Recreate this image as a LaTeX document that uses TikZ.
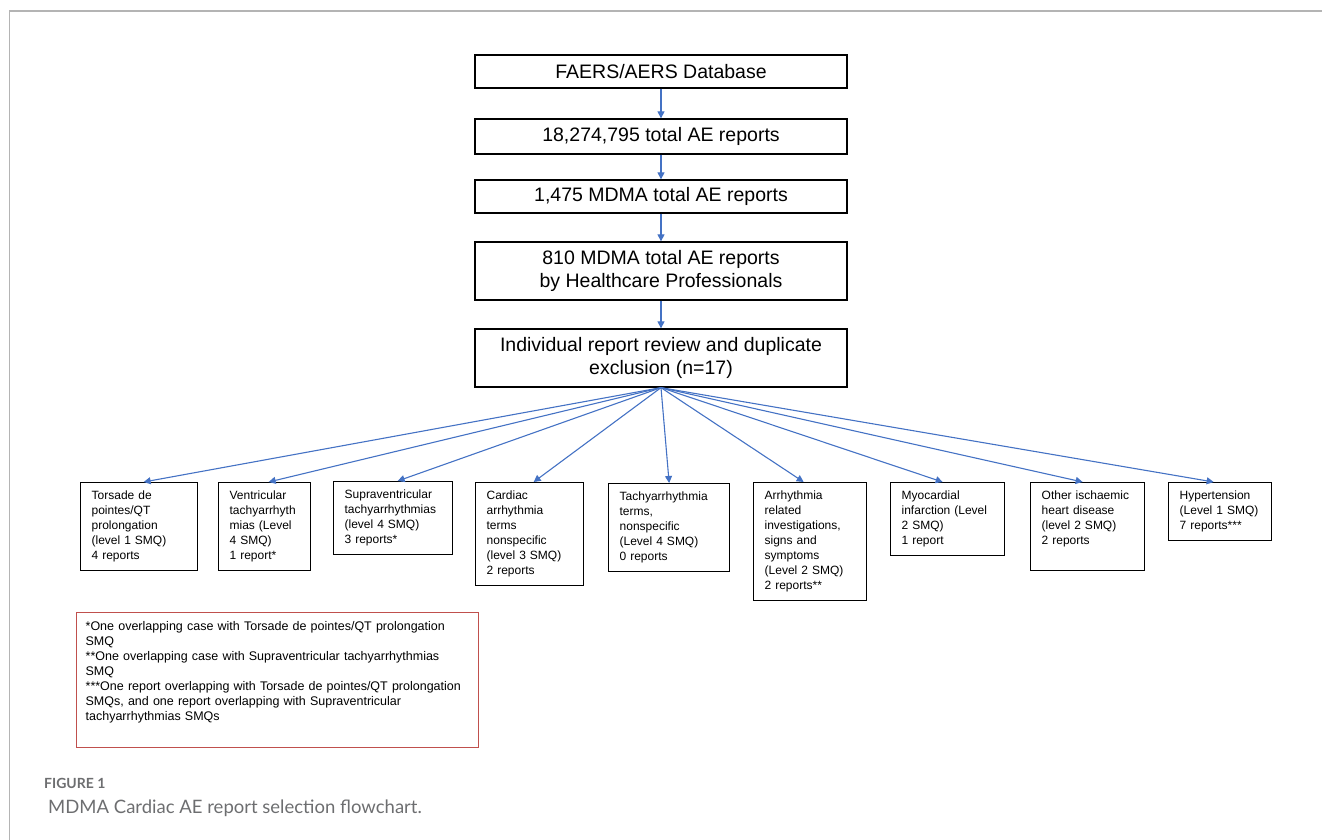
\documentclass[tikz,border=0pt]{standalone}
\usepackage{fontspec}
\setmainfont{Liberation Sans}
\newfontfamily\capfont{Lato}
\usetikzlibrary{arrows.meta}
\definecolor{arrblue}{HTML}{4472C4}
\definecolor{notered}{HTML}{C0504D}
\definecolor{capgray}{HTML}{6D6E70}
\definecolor{framegray}{HTML}{B4B4B4}
\begin{document}
\begin{tikzpicture}[x=1pt,y=-1pt,
  topbox/.style={draw=black, line width=1.3pt, minimum width=372pt, align=center,
    font=\fontsize{19.5}{23.5}\selectfont, inner sep=0pt},
  smallbox/.style={draw=black, line width=1.3pt, anchor=north west, align=left,
    inner xsep=11pt, inner ysep=6.5pt, font=\fontsize{12}{15}\selectfont,
    execute at begin node=\strut, execute at end node=\strut},
  notebox/.style={draw=notered, line width=1.3pt, anchor=north west, align=left,
    inner xsep=9pt, inner ysep=7.5pt, font=\fontsize{12.5}{15}\selectfont,
    execute at begin node=\strut, execute at end node=\strut},
  flow/.style={draw=arrblue, line width=1.1pt, -{Triangle[length=7pt,width=7pt]}},
  captxt/.style={anchor=base west, inner sep=0pt, text=capgray},
]
\useasboundingbox (0,0) rectangle (1322,840);
\draw[framegray, line width=1.5pt] (9.5,840) -- (9.5,11) -- (1322,11);

% main column
\node[topbox, minimum height=33pt] (t1) at (661,71.5) {FAERS/AERS Database};
\node[topbox, minimum height=35pt] (t2) at (661,136.5) {18,274,795 total AE reports};
\node[topbox, minimum height=33pt] (t3) at (661,196.5) {1,475 MDMA total AE reports};
\node[topbox, minimum height=58pt] (t4) at (661,271) {810 MDMA total AE reports\\by Healthcare Professionals};
\node[topbox, minimum height=58pt] (t5) at (661,358) {Individual report review and duplicate\\exclusion (n=17)};

\draw[flow] (t1.south) -- (t2.north);
\draw[flow] (t2.south) -- (t3.north);
\draw[flow] (t3.south) -- (t4.north);
\draw[flow] (t4.south) -- (t5.north);

% bottom row
\node[smallbox, text width=95pt] (b1) at (80,482) {Torsade de\\pointes/QT\\prolongation\\(level 1 SMQ)\\4 reports};
\node[smallbox, text width=70pt] (b2) at (218,482) {Ventricular\\tachyarrhyth\\mias (Level\\4 SMQ)\\1 report*};
\node[smallbox, text width=97pt] (b3) at (333,481) {Supraventricular\\tachyarrhythmias\\(level 4 SMQ)\\3 reports*};
\node[smallbox, text width=86pt] (b4) at (475,482) {Cardiac\\arrhythmia\\terms\\nonspecific\\(level 3 SMQ)\\2 reports};
\node[smallbox, text width=99pt] (b5) at (608,483) {Tachyarrhythmia\\terms,\\nonspecific\\(Level 4 SMQ)\\0 reports};
\node[smallbox, text width=91pt] (b6) at (753,482) {Arrhythmia\\related\\investigations,\\signs and\\symptoms\\(Level 2 SMQ)\\2 reports**};
\node[smallbox, text width=92pt] (b7) at (890,482) {Myocardial\\infarction (Level\\2 SMQ)\\1 report};
\node[smallbox, text width=92pt] (b8) at (1030,482) {Other ischaemic\\heart disease\\(level 2 SMQ)\\2 reports\\~};
\node[smallbox, text width=81pt] (b9) at (1168,482) {Hypertension\\(Level 1 SMQ)\\7 reports***};

\draw[flow] (t5.south) -- ([xshift=4.5pt]b1.north);
\draw[flow] (t5.south) -- ([xshift=4pt]b2.north);
\draw[flow] (t5.south) -- ([xshift=4.5pt]b3.north);
\draw[flow] (t5.south) -- ([xshift=4pt]b4.north);
\draw[flow] (t5.south) -- (b5.north);
\draw[flow] (t5.south) -- ([xshift=-6.5pt]b6.north);
\draw[flow] (t5.south) -- ([xshift=-5pt]b7.north);
\draw[flow] (t5.south) -- ([xshift=-5pt]b8.north);
\draw[flow] (t5.south) -- ([xshift=-6.5pt]b9.north);

% footnote box
\node[notebox, text width=384pt] (note) at (76,612) {*One overlapping case with Torsade de pointes/QT prolongation\\SMQ\\{}**One overlapping case with Supraventricular tachyarrhythmias\\SMQ\\{}***One report overlapping with Torsade de pointes/QT prolongation\\SMQs,  and one report overlapping with Supraventricular\\tachyarrhythmias SMQs\\~};

% caption
\node[captxt, font=\capfont\bfseries\fontsize{14}{16}\selectfont] (fig) at (44,788) {FIGURE 1};
\node[captxt, font=\capfont\fontsize{18.5}{22}\selectfont] (cap) at (48,813) {MDMA Cardiac AE report selection flowchart.};
\end{tikzpicture}
\end{document}
